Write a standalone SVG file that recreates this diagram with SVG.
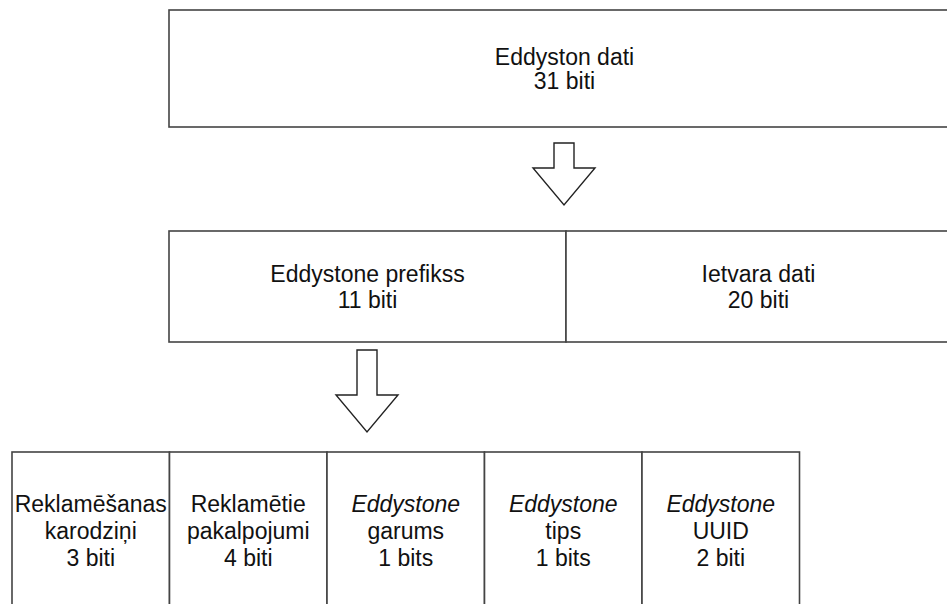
<svg xmlns="http://www.w3.org/2000/svg" width="947" height="604" viewBox="0 0 947 604">
<style>
.box{fill:#fff;stroke:#444;stroke-width:1.6}
.arr{fill:#fff;stroke:#222;stroke-width:1.4;stroke-linejoin:miter}
text{font-family:"Liberation Sans",Arial,sans-serif;font-size:23px;fill:#111;text-anchor:middle}
.i{font-style:italic}
</style>
<rect width="947" height="604" fill="#fff"/>
<g id="eddyston-dati">
<rect class="box" x="169" y="10" width="791" height="117"/>
<text x="564.5" y="65">Eddyston dati</text>
<text x="564.5" y="89">31 biti</text>
</g>
<g id="eddystone-prefikss">
<rect class="box" x="169" y="231" width="397" height="111"/>
<text x="367.5" y="282">Eddystone prefikss</text>
<text x="367.5" y="308">11 biti</text>
</g>
<g id="ietvara-dati">
<rect class="box" x="566" y="231" width="386" height="111"/>
<text x="758.5" y="282">Ietvara dati</text>
<text x="758.5" y="308">20 biti</text>
</g>
<g id="reklamesanas-karodzini">
<rect class="box" x="12" y="452" width="157.5" height="170"/>
<text x="90.75" y="512">Reklamēšanas</text>
<text x="90.75" y="539">karodziņi</text>
<text x="90.75" y="566">3 biti</text>
</g>
<g id="reklametie-pakalpojumi">
<rect class="box" x="169.5" y="452" width="157.5" height="170"/>
<text x="248.25" y="512">Reklamētie</text>
<text x="248.25" y="539">pakalpojumi</text>
<text x="248.25" y="566">4 biti</text>
</g>
<g id="eddystone-garums">
<rect class="box" x="327" y="452" width="157.5" height="170"/>
<text x="405.75" y="512" class="i">Eddystone</text>
<text x="405.75" y="539">garums</text>
<text x="405.75" y="566">1 bits</text>
</g>
<g id="eddystone-tips">
<rect class="box" x="484.5" y="452" width="157.5" height="170"/>
<text x="563.25" y="512" class="i">Eddystone</text>
<text x="563.25" y="539">tips</text>
<text x="563.25" y="566">1 bits</text>
</g>
<g id="eddystone-uuid">
<rect class="box" x="642" y="452" width="157.5" height="170"/>
<text x="720.75" y="512" class="i">Eddystone</text>
<text x="720.75" y="539">UUID</text>
<text x="720.75" y="566">2 biti</text>
</g>
<g id="connectors">
<path class="arr" d="M554,143 L574,143 L574,168 L595,168 L564,205 L533,168 L554,168 Z"/>
<path class="arr" d="M357,350 L377,350 L377,395 L398,395 L367,432 L336,395 L357,395 Z"/>
</g>
</svg>
